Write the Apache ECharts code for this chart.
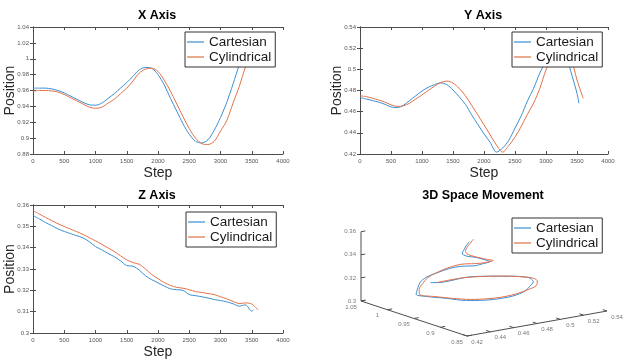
<!DOCTYPE html>
<html>
<head>
<meta charset="utf-8">
<script src="https://cdn.jsdelivr.net/npm/echarts@6/dist/echarts.min.js"></script>
<style>
  html, body { margin: 0; padding: 0; background: #fff; }
  #chart { width: 625px; height: 360px; }
</style>
</head>
<body>
<div id="chart"></div>
<script>
// steps at which the curves were read
const cartSteps = [0, 100, 200, 300, 400, 500, 600, 700, 800, 900, 1000, 1100, 1200, 1300, 1400, 1500, 1600, 1700, 1800, 1900,
  2000, 2100, 2200, 2300, 2400, 2500, 2600, 2700, 2800, 2900, 3000, 3100, 3200, 3300, 3400, 3500, 3530];
const cylSteps = [0, 100, 200, 300, 400, 500, 600, 700, 800, 900, 1000, 1100, 1200, 1300, 1400, 1500, 1600, 1700, 1800, 1900,
  2000, 2100, 2200, 2300, 2400, 2500, 2600, 2700, 2800, 2900, 3000, 3100, 3200, 3300, 3400, 3500, 3600];

const cartX = [0.963, 0.963, 0.963, 0.962, 0.960, 0.957, 0.953, 0.949, 0.945, 0.942, 0.9415, 0.944, 0.950, 0.956, 0.963, 0.970,
  0.978, 0.986, 0.989, 0.988, 0.980, 0.967, 0.950, 0.934, 0.918, 0.905, 0.896, 0.894, 0.898, 0.910, 0.926, 0.945, 0.968,
  0.992, 1.010, 1.022, 1.025];
const cartY = [0.4733, 0.472, 0.4705, 0.469, 0.467, 0.4645, 0.4638, 0.466, 0.4705, 0.475, 0.4795, 0.483, 0.4855, 0.4872,
  0.4855, 0.4805, 0.474, 0.467, 0.457, 0.448, 0.439, 0.431, 0.4218, 0.4255, 0.433, 0.4445, 0.456, 0.470, 0.482, 0.4965,
  0.508, 0.520, 0.526, 0.518, 0.498, 0.4773, 0.468];
const cartZ = [0.3550, 0.3535, 0.3518, 0.3503, 0.3488, 0.3476, 0.3466, 0.3456, 0.3446, 0.3428, 0.3405, 0.3390, 0.3373,
  0.3358, 0.3338, 0.3316, 0.3313, 0.3295, 0.3268, 0.3250, 0.3235, 0.3220, 0.3207, 0.3203, 0.3200, 0.3180, 0.3175, 0.3170,
  0.3164, 0.3157, 0.3152, 0.3146, 0.3137, 0.3126, 0.3132, 0.3102, 0.3110];

const cylX = [0.959, 0.960, 0.960, 0.9595, 0.958, 0.955, 0.951, 0.947, 0.943, 0.939, 0.9376, 0.939, 0.944, 0.949, 0.956,
  0.963, 0.972, 0.982, 0.987, 0.988, 0.984, 0.973, 0.959, 0.943, 0.927, 0.912, 0.900, 0.893, 0.892, 0.896, 0.909, 0.922,
  0.944, 0.965, 0.990, 1.010, 1.022];
const cylY = [0.475, 0.4742, 0.4728, 0.471, 0.469, 0.4665, 0.4650, 0.4655, 0.468, 0.472, 0.4758, 0.4800, 0.4840, 0.4875,
  0.4889, 0.4870, 0.482, 0.475, 0.466, 0.457, 0.4475, 0.438, 0.4285, 0.4218, 0.428, 0.436, 0.446, 0.4575, 0.468, 0.482,
  0.4995, 0.512, 0.523, 0.527, 0.512, 0.490, 0.4726];
const cylZ = [0.3574, 0.3558, 0.3542, 0.3527, 0.3512, 0.3499, 0.3487, 0.3475, 0.3462, 0.3447, 0.3432, 0.3416, 0.3399,
  0.3382, 0.3362, 0.3343, 0.3330, 0.3322, 0.3300, 0.3274, 0.3255, 0.3236, 0.3223, 0.3214, 0.3210, 0.3203, 0.3194, 0.3190,
  0.3185, 0.3180, 0.3170, 0.3160, 0.3148, 0.3138, 0.3141, 0.3136, 0.3108];

// tick labels of the 3D box
const ticks3dX = [1.05, 1, 0.95, 0.9, 0.85];
const ticks3dY = [0.42, 0.44, 0.46, 0.48, 0.5, 0.52, 0.54];
const ticks3dZ = [0.3, 0.32, 0.34, 0.36];

const BLUE = "#3a8fd2";
const RED = "#e37049";
const FRAME = "#4d4d4d";
const FONT = '"Liberation Sans", Arial, Helvetica, sans-serif';

// orthographic projection of the 3D box (screen units = px)
function project(x, y, z) {
  const nx = (x - 0.85) / 0.2;
  const ny = (y - 0.42) / 0.12;
  const nz = (z - 0.3) / 0.06;
  return [(1 - nx) * 106 + ny * 140, nz * 69.3 - (1 - nx) * 35 + ny * 25];
}

function pairs(steps, vals) {
  return steps.map((s, i) => [s, vals[i]]);
}

function fmt(v) {
  return String(+v.toFixed(3));
}

function xAxes(g) {
  const base = {
    type: "value", gridIndex: g, min: 0, max: 4000, interval: 500,
    axisLine: { lineStyle: { color: FRAME, width: 1 } },
    axisTick: { inside: true, length: 3, lineStyle: { color: FRAME } },
    splitLine: { show: false },
  };
  return [
    {
      ...base,
      name: "Step", nameLocation: "middle", nameGap: 12, nameMoveOverlap: false,
      nameTextStyle: { fontSize: 14, color: "#262626", fontFamily: FONT },
      axisLabel: { fontSize: 6, color: "#555", margin: 4, fontFamily: FONT, formatter: (v) => String(v) },
    },
    { ...base, position: "top", axisLabel: { show: false } },
  ];
}

function yAxes(g, min, max, interval) {
  const base = {
    type: "value", gridIndex: g, min, max, interval,
    axisLine: { lineStyle: { color: FRAME, width: 1 } },
    axisTick: { inside: true, length: 3, lineStyle: { color: FRAME } },
    splitLine: { show: false },
  };
  return [
    {
      ...base,
      name: "Position", nameLocation: "middle", nameGap: 16, nameMoveOverlap: false,
      nameTextStyle: { fontSize: 14, color: "#262626", fontFamily: FONT },
      axisLabel: { fontSize: 6, color: "#555", margin: 4, fontFamily: FONT, formatter: fmt },
    },
    { ...base, position: "right", axisLabel: { show: false } },
  ];
}

function lineSeries(name, color, g, data) {
  return {
    name, type: "line", xAxisIndex: 2 * g, yAxisIndex: 2 * g, data,
    symbol: "none", smooth: 0.3, clip: true,
    lineStyle: { color, width: 1 }, itemStyle: { color },
    silent: true, animation: false,
  };
}

function legendAt(left, top) {
  return {
    data: ["Cartesian", "Cylindrical"], orient: "vertical", left, top,
    icon: "rect", itemWidth: 17, itemHeight: 1.2, itemGap: 1, itemTextGap: 3,
    padding: [3, 4, 3, 2], backgroundColor: "#fff", borderColor: "#333", borderWidth: 1,
    textStyle: { fontSize: 13.5, color: "#1a1a1a", fontFamily: FONT },
    selectedMode: false,
  };
}

function titleText(text, x, y) {
  return {
    type: "text", x, y, z: 10,
    style: { text, fontSize: 12.5, fontWeight: "bold", fontFamily: FONT, fill: "#000", align: "center", verticalAlign: "middle" },
  };
}

// 3D box pieces
const corner = project(1.05, 0.42, 0.3);
const boxLine = [project(1.05, 0.42, 0.36), corner, project(0.85, 0.42, 0.3), project(0.85, 0.54, 0.3)];
const tickSegs = [];
ticks3dX.forEach((t) => tickSegs.push({ coords: [project(t, 0.42, 0.3), project(t, 0.424, 0.3)] }));
ticks3dY.forEach((t) => tickSegs.push({ coords: [project(0.85, t, 0.3), project(0.858, t, 0.3)] }));
ticks3dZ.forEach((t) => tickSegs.push({ coords: [project(1.05, 0.42, t), project(1.05, 0.4237, t)] }));

function tickLabels(points, offset, align) {
  return {
    type: "scatter", xAxisIndex: 6, yAxisIndex: 6, symbolSize: 0, silent: true, animation: false,
    data: points.map((p) => ({ value: p.pos, name: p.text })),
    label: {
      show: true, position: "inside", offset, align, formatter: (d) => d.name,
      fontSize: 6, color: "#555", fontFamily: FONT,
    },
  };
}

const cart3d = cartSteps.map((s, i) => project(cartX[i], cartY[i], cartZ[i]));
const cyl3d = cylSteps.map((s, i) => project(cylX[i], cylY[i], cylZ[i]));

const chart = echarts.init(document.getElementById("chart"), null, { renderer: "canvas" });

chart.setOption({
  animation: false,
  textStyle: { fontFamily: FONT },
  grid: [
    { left: 33, top: 27, width: 250, height: 127 },
    { left: 360, top: 27, width: 248, height: 127 },
    { left: 33, top: 205, width: 250, height: 130 },
    { left: 361, top: 221, width: 250, height: 120 },
  ],
  xAxis: [
    ...xAxes(0), ...xAxes(1), ...xAxes(2),
    { type: "value", gridIndex: 3, min: 0, max: 250, show: false },
  ],
  yAxis: [
    ...yAxes(0, 0.88, 1.04, 0.02), ...yAxes(1, 0.42, 0.54, 0.02), ...yAxes(2, 0.3, 0.36, 0.01),
    { type: "value", gridIndex: 3, min: -40, max: 80, show: false },
  ],
  legend: [legendAt(185, 32), legendAt(512, 32), legendAt(186, 212), legendAt(512, 218)],
  graphic: [
    titleText("X Axis", 157, 16),
    titleText("Y Axis", 483, 16),
    titleText("Z Axis", 157, 196),
    titleText("3D Space Movement", 483, 196),
  ],
  series: [
    lineSeries("Cartesian", BLUE, 0, pairs(cartSteps, cartX)),
    lineSeries("Cylindrical", RED, 0, pairs(cylSteps, cylX)),
    lineSeries("Cartesian", BLUE, 1, pairs(cartSteps, cartY)),
    lineSeries("Cylindrical", RED, 1, pairs(cylSteps, cylY)),
    lineSeries("Cartesian", BLUE, 2, pairs(cartSteps, cartZ)),
    lineSeries("Cylindrical", RED, 2, pairs(cylSteps, cylZ)),
    { ...lineSeries("Cartesian", BLUE, 3, cart3d), xAxisIndex: 6, yAxisIndex: 6, clip: false },
    { ...lineSeries("Cylindrical", RED, 3, cyl3d), xAxisIndex: 6, yAxisIndex: 6, clip: false },
    {
      type: "line", xAxisIndex: 6, yAxisIndex: 6, data: boxLine, symbol: "none", clip: false,
      lineStyle: { color: FRAME, width: 1 }, silent: true, animation: false,
    },
    {
      type: "lines", coordinateSystem: "cartesian2d", xAxisIndex: 6, yAxisIndex: 6, data: tickSegs,
      lineStyle: { color: FRAME, width: 1, opacity: 1 }, silent: true, animation: false,
    },
    tickLabels(ticks3dX.map((t) => ({ pos: project(t, 0.42, 0.3), text: fmt(t) })), [-10, 6], "center"),
    tickLabels(ticks3dY.map((t) => ({ pos: project(0.85, t, 0.3), text: fmt(t) })), [10, 6], "center"),
    tickLabels(ticks3dZ.map((t) => ({ pos: project(1.05, 0.42, t), text: fmt(t) })), [-5, 0], "right"),
  ],
});
</script>
</body>
</html>
